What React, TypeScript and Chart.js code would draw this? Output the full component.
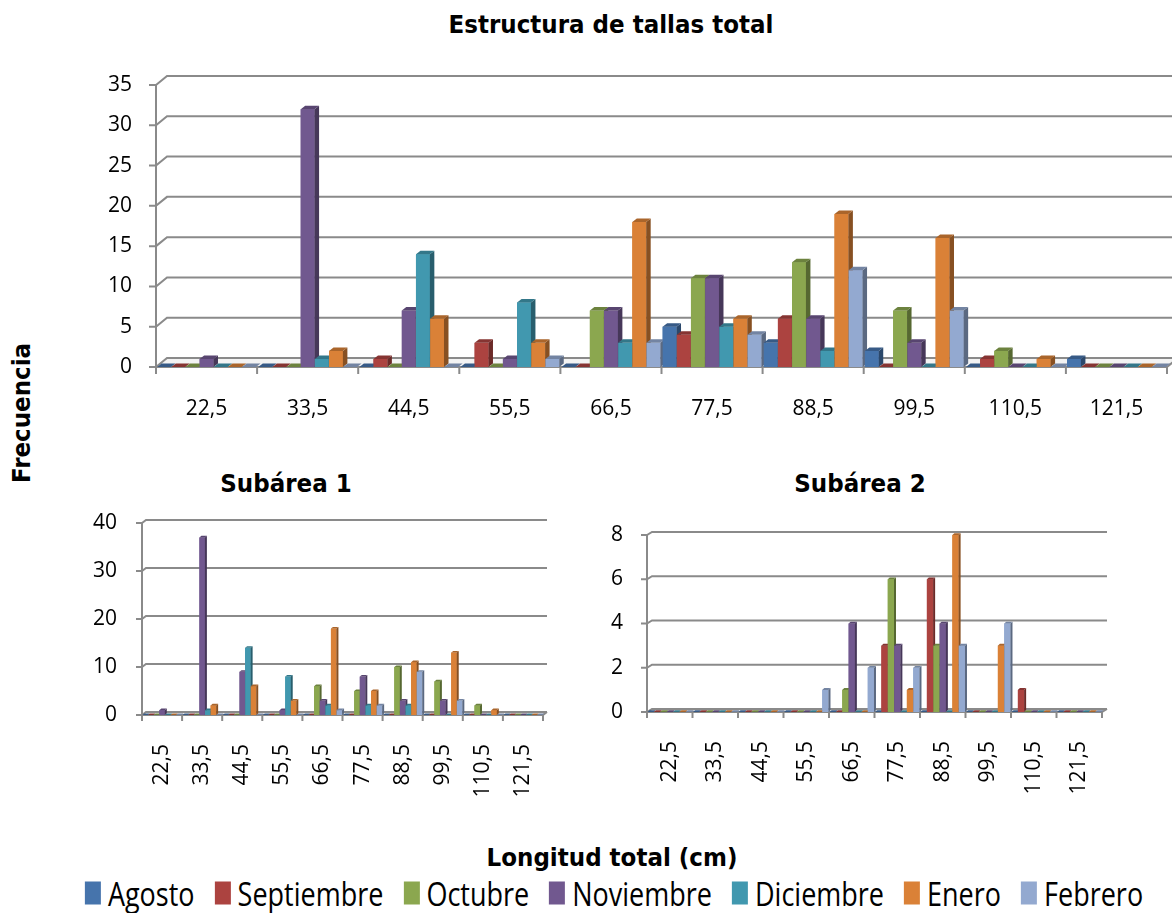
import { useEffect, useRef } from "react";
import { Chart, registerables } from "chart.js";

Chart.register(...registerables);

// Size classes (cm, class marks)
const categories = ["22,5", "33,5", "44,5", "55,5", "66,5", "77,5", "88,5", "99,5", "110,5", "121,5"];
const months = ["Agosto", "Septiembre", "Octubre", "Noviembre", "Diciembre", "Enero", "Febrero"];
const monthColors = ["#4674AC", "#AC4340", "#8BA74F", "#71588F", "#4198AF", "#DA8137", "#93A9D0"];

// Total length structure, whole area
const totalAgosto = [0, 0, 0, 0, 0, 5, 3, 2, 0, 1];
const totalSeptiembre = [0, 0, 1, 3, 0, 4, 6, 0, 1, 0];
const totalOctubre = [0, 0, 0, 0, 7, 11, 13, 7, 2, 0];
const totalNoviembre = [1, 32, 7, 1, 7, 11, 6, 3, 0, 0];
const totalDiciembre = [0, 1, 14, 8, 3, 5, 2, 0, 0, 0];
const totalEnero = [0, 2, 6, 3, 18, 6, 19, 16, 1, 0];
const totalFebrero = [0, 0, 0, 1, 3, 4, 12, 7, 0, 0];

// Subárea 1
const sub1Agosto = [0, 0, 0, 0, 0, 0, 0, 0, 0, 0];
const sub1Septiembre = [0, 0, 0, 0, 0, 0, 0, 0, 0, 0];
const sub1Octubre = [0, 0, 0, 0, 6, 5, 10, 7, 2, 0];
const sub1Noviembre = [1, 37, 9, 1, 3, 8, 3, 3, 0, 0];
const sub1Diciembre = [0, 1, 14, 8, 2, 2, 2, 0, 0, 0];
const sub1Enero = [0, 2, 6, 3, 18, 5, 11, 13, 1, 0];
const sub1Febrero = [0, 0, 0, 0, 1, 2, 9, 3, 0, 0];

// Subárea 2
const sub2Agosto = [0, 0, 0, 0, 0, 0, 0, 0, 0, 0];
const sub2Septiembre = [0, 0, 0, 0, 0, 3, 6, 0, 1, 0];
const sub2Octubre = [0, 0, 0, 0, 1, 6, 3, 0, 0, 0];
const sub2Noviembre = [0, 0, 0, 0, 4, 3, 4, 0, 0, 0];
const sub2Diciembre = [0, 0, 0, 0, 0, 0, 0, 0, 0, 0];
const sub2Enero = [0, 0, 0, 0, 0, 1, 8, 3, 0, 0];
const sub2Febrero = [0, 0, 0, 1, 2, 2, 3, 4, 0, 0];

const totalSeries = [totalAgosto, totalSeptiembre, totalOctubre, totalNoviembre, totalDiciembre, totalEnero, totalFebrero];
const sub1Series = [sub1Agosto, sub1Septiembre, sub1Octubre, sub1Noviembre, sub1Diciembre, sub1Enero, sub1Febrero];
const sub2Series = [sub2Agosto, sub2Septiembre, sub2Octubre, sub2Noviembre, sub2Diciembre, sub2Enero, sub2Febrero];

const GRID = "#8a8a8a";
const TICK_FONT = { family: '"Open Sans", sans-serif', size: 21 };
const BOLD_FAMILY = '"DejaVu Sans", sans-serif';

function shade(hex: string, f: number) {
  const n = parseInt(hex.slice(1), 16);
  const r = Math.round(((n >> 16) & 255) * f);
  const g = Math.round(((n >> 8) & 255) * f);
  const b = Math.round((n & 255) * f);
  return `rgb(${r},${g},${b})`;
}

interface Depth {
  wallDx: number;
  wallDy: number;
  barDx: number;
  barDy: number;
  tick: number;
}

// Pseudo-3D walls, floor and bar faces drawn around the library's bars
function depthPlugin(d: Depth) {
  return {
    id: "depth3d",
    beforeDatasetsDraw(chart: any) {
      const { ctx, chartArea: a, scales } = chart;
      const xs = scales.x;
      const ys = scales.y;
      const b = a.bottom;
      ctx.save();
      ctx.fillStyle = "#f3f3f3";
      ctx.beginPath();
      ctx.moveTo(a.left, b);
      ctx.lineTo(a.left + d.wallDx, b + d.wallDy);
      ctx.lineTo(a.right + d.wallDx, b + d.wallDy);
      ctx.lineTo(a.right, b);
      ctx.closePath();
      ctx.fill();
      ctx.lineWidth = 2;
      ctx.strokeStyle = GRID;
      ys.ticks.forEach((t: any) => {
        const py = ys.getPixelForValue(t.value);
        ctx.beginPath();
        ctx.moveTo(a.left - d.tick, py);
        ctx.lineTo(a.left, py);
        ctx.lineTo(a.left + d.wallDx, py + d.wallDy);
        ctx.lineTo(a.right + d.wallDx, py + d.wallDy);
        ctx.stroke();
      });
      ctx.beginPath();
      ctx.moveTo(a.left, a.top);
      ctx.lineTo(a.left, b);
      ctx.lineTo(a.right, b);
      ctx.lineTo(a.right + d.wallDx, b + d.wallDy);
      ctx.stroke();
      for (let i = 0; i <= xs.ticks.length; i++) {
        const px = xs.getPixelForValue(i - 0.5);
        ctx.beginPath();
        ctx.moveTo(px, b);
        ctx.lineTo(px, b + d.tick);
        ctx.stroke();
      }
      ctx.restore();
    },
    afterDatasetsDraw(chart: any) {
      const ctx = chart.ctx;
      const sets = chart.data.datasets;
      const count = chart.data.labels.length;
      ctx.save();
      for (let c = 0; c < count; c++) {
        for (let s = 0; s < sets.length; s++) {
          const meta = chart.getDatasetMeta(s);
          const el = meta.data[c];
          if (!el) continue;
          const color = sets[s].backgroundColor as string;
          const { x, y, base, width } = el.getProps(["x", "y", "base", "width"], true);
          const l = x - width / 2;
          const r = x + width / 2;
          el.draw(ctx);
          if (base - y > 0.5) {
            ctx.fillStyle = shade(color, 0.62);
            ctx.beginPath();
            ctx.moveTo(r, y);
            ctx.lineTo(r + d.barDx, y + d.barDy);
            ctx.lineTo(r + d.barDx, base + d.barDy);
            ctx.lineTo(r, base);
            ctx.closePath();
            ctx.fill();
          }
          ctx.fillStyle = shade(color, 0.78);
          ctx.beginPath();
          ctx.moveTo(l, y);
          ctx.lineTo(l + d.barDx, y + d.barDy);
          ctx.lineTo(r + d.barDx, y + d.barDy);
          ctx.lineTo(r, y);
          ctx.closePath();
          ctx.fill();
        }
      }
      ctx.restore();
    },
  };
}

interface PanelSpec {
  series: number[][];
  max: number;
  step: number;
  left: number;
  top: number;
  width: number;
  height: number;
  padTop: number;
  padRight: number;
  yWidth: number;
  xHeight: number;
  yPad: number;
  xPad: number;
  rotate: boolean;
  depth: Depth;
}

function Panel({ spec }: { spec: PanelSpec }) {
  const ref = useRef<HTMLCanvasElement>(null);
  useEffect(() => {
    const chart = new Chart(ref.current as HTMLCanvasElement, {
      type: "bar",
      data: {
        labels: categories,
        datasets: months.map((m, i) => ({
          label: m,
          data: spec.series[i],
          backgroundColor: monthColors[i],
          borderWidth: 0,
          categoryPercentage: 0.98,
          barPercentage: 0.98,
        })),
      },
      options: {
        animation: false,
        responsive: false,
        devicePixelRatio: 1,
        layout: { padding: { top: spec.padTop, right: spec.padRight, left: 0, bottom: 0 } },
        plugins: { legend: { display: false }, tooltip: { enabled: false }, title: { display: false } },
        scales: {
          x: {
            grid: { display: false, drawTicks: false },
            border: { display: false },
            ticks: {
              font: TICK_FONT,
              color: "#000",
              padding: spec.xPad,
              autoSkip: false,
              maxRotation: spec.rotate ? 90 : 0,
              minRotation: spec.rotate ? 90 : 0,
            },
            afterFit: (s: any) => {
              s.height = spec.xHeight;
              s.paddingLeft = 0;
              s.paddingRight = 0;
            },
          },
          y: {
            min: 0,
            max: spec.max,
            grid: { display: false, drawTicks: false },
            border: { display: false },
            ticks: { stepSize: spec.step, font: TICK_FONT, color: "#000", padding: spec.yPad },
            afterFit: (s: any) => {
              s.width = spec.yWidth;
              s.paddingTop = 0;
              s.paddingBottom = 0;
            },
          },
        },
      },
      plugins: [depthPlugin(spec.depth)],
    } as any);
    return () => chart.destroy();
  }, []);
  return (
    <canvas
      ref={ref}
      width={spec.width}
      height={spec.height}
      style={{ position: "absolute", left: spec.left, top: spec.top, width: spec.width, height: spec.height }}
    />
  );
}

const mainPanel: PanelSpec = {
  series: totalSeries, max: 35, step: 5,
  left: 0, top: 55, width: 1172, height: 395,
  padTop: 30, padRight: 5, yWidth: 156, xHeight: 83, yPad: 24, xPad: 29, rotate: false,
  depth: { wallDx: 11, wallDy: -9, barDx: 4.5, barDy: -3.5, tick: 7 },
};

const sub1Panel: PanelSpec = {
  series: sub1Series, max: 40, step: 10,
  left: 0, top: 500, width: 580, height: 320,
  padTop: 23, padRight: 37, yWidth: 142, xHeight: 105, yPad: 25, xPad: 29, rotate: true,
  depth: { wallDx: 4, wallDy: -3, barDx: 2, barDy: -1.6, tick: 6 },
};

const sub2Panel: PanelSpec = {
  series: sub2Series, max: 8, step: 2,
  left: 580, top: 500, width: 592, height: 320,
  padTop: 35, padRight: 70, yWidth: 67, xHeight: 108, yPad: 24, xPad: 29, rotate: true,
  depth: { wallDx: 5, wallDy: -3, barDx: 2, barDy: -1.8, tick: 6 },
};

function Text({ text, x, y, size, rotate = false, sy = 1.1 }: { text: string; x: number; y: number; size: number; rotate?: boolean; sy?: number }) {
  return (
    <div
      style={{
        position: "absolute",
        left: x,
        top: y,
        transform: `translate(-50%, -50%)${rotate ? " rotate(-90deg)" : ""} scale(1, ${sy})`,
        fontFamily: BOLD_FAMILY,
        fontWeight: "bold",
        fontSize: size,
        lineHeight: 1,
        whiteSpace: "nowrap",
        color: "#000",
      }}
    >
      {text}
    </div>
  );
}

export default function App() {
  return (
    <div style={{ position: "absolute", left: 0, top: 0, width: 1172, height: 913, background: "#fff", overflow: "hidden" }}>
      <Text text="Estructura de tallas total" x={611} y={25} size={23} />
      <Text text="Frecuencia" x={22} y={413} size={23} rotate />
      <Text text="Subárea 1" x={286} y={484} size={23} />
      <Text text="Subárea 2" x={860} y={484} size={23} />
      <Text text="Longitud total (cm)" x={612} y={858} size={23} />
      <Panel spec={mainPanel} />
      <Panel spec={sub1Panel} />
      <Panel spec={sub2Panel} />
      <div
        style={{
          position: "absolute",
          left: 614,
          top: 893,
          transform: "translate(-50%, -50%)",
          display: "flex",
          alignItems: "center",
          gap: 20,
          whiteSpace: "nowrap",
        }}
      >
        {months.map((m, i) => (
          <div key={m} style={{ display: "flex", alignItems: "center" }}>
            <div style={{ width: 16, height: 23, background: monthColors[i], marginRight: 7 }} />
            <span
              style={{
                fontFamily: '"Open Sans", sans-serif',
                fontSize: 27,
                lineHeight: 1,
                display: "inline-block",
                transform: "scale(1, 1.22)",
                color: "#000",
              }}
            >
              {m}
            </span>
          </div>
        ))}
      </div>
    </div>
  );
}
